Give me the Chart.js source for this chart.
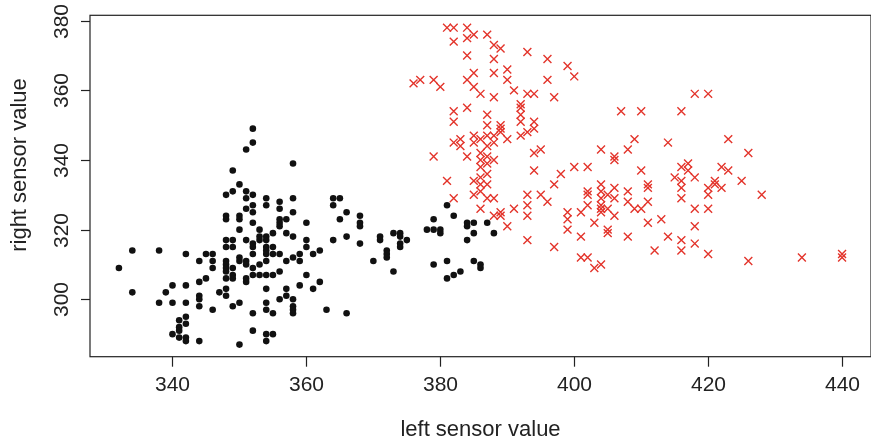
<!DOCTYPE html>
<html>
<head>
<meta charset="utf-8">
<script src="https://cdn.jsdelivr.net/npm/chart.js@4.4.0/dist/chart.umd.min.js"></script>
<style>
  html, body { margin: 0; padding: 0; background: #fff; }
  canvas { display: block; }
</style>
</head>
<body>
<canvas id="myChart" width="871" height="441"></canvas>
<script>
// group 1 (black dots)
const blackX = [334,338,342,345,346,332,344,346,346,345,344,334,339,340,342,344,344,338,340,342,344,346,342,341,342,341,341,340,341,342,342,344,
  347,348,348,349,350,351,352,354,354,354,355,356,352,354,355,354,350,
  352,352,351,358,349,350,349,348,351,352,351,354,352,351,352,354,356,356,358,358,357,356,356,356,360,348,348,350,350,352,350,353,354,354,353,353,355,357,358,351,348,348,349,349,352,352,354,354,355,360,360,
  348,348,348,348,350,350,351,351,352,352,353,354,354,355,357,356,358,359,359,361,362,349,349,349,348,351,352,353,354,355,356,360,357,357,359,361,362,358,358,358,358,
  364,365,364,366,365,368,368,368,364,366,368,363,366,370,371,371,372,372,372,373,373,374,374,374,374,375,378,379,379,380,380,381,382,379,381,381,382,383,384,384,384,385,385,387,388,385,386,386];
const blackY = [314,314,313,313,313,309,311,311,309,306,305,302,302,304,304,301,300,299,299,299,298,297,295,294,293,292,291,290,289,289,288,288,
  302,303,301,298,299,305,296,303,299,297,296,300,291,290,290,288,287,
  349,345,343,339,337,333,331,330,331,330,329,329,327,326,325,327,328,326,329,325,323,323,322,321,322,324,323,324,323,322,320,320,318,317,318,317,319,319,318,317,317,315,317,315,316,315,315,314,315,317,315,
  311,310,309,308,312,311,311,310,313,309,310,313,311,313,311,313,312,313,311,313,314,309,307,306,306,306,307,307,307,307,308,307,303,301,304,303,305,300,298,297,296,
  329,329,327,325,323,324,322,321,317,318,316,297,296,311,318,317,314,313,312,319,308,319,318,316,315,317,320,320,323,320,319,327,324,310,311,306,307,308,322,321,317,322,319,322,319,311,310,309];

// group 2 (red crosses)
const redX = [381,382,384,385,384,382,387,384,385,384,385,386,376,377,379,380,382,382,384,387,387,
  388,389,393,396,399,400,388,388,390,390,396,391,393,394,397,388,392,392,392,392,389,389,394,394,
  382,383,383,385,385,386,387,384,379,386,386,387,386,381,385,386,386,387,385,386,387,382,386,
  389,393,392,390,388,388,387,394,395,394,387,388,387,388,398,397,400,402,393,393,393,395,396,391,389,389,388,390,393,397,399,399,399,401,402,402,402,403,401,401,402,404,
  418,420,407,410,416,409,414,408,406,406,410,416,417,417,415,416,416,416,418,411,411,404,404,404,404,404,404,405,406,405,406,408,408,409,410,411,406,405,405,408,411,413,414,416,416,418,420,418,418,420,412,403,404,
  423,426,422,423,425,428,421,421,420,422,420,426,434,440,440];
const redY = [378,378,378,376,375,374,376,370,365,363,361,359,362,363,363,361,354,351,355,353,350,
  373,372,371,369,367,364,369,365,366,363,363,360,359,359,358,358,356,355,353,351,350,349,351,349,
  345,346,344,347,345,346,347,341,341,342,340,339,338,334,334,335,333,336,330,331,329,329,326,
  348,348,347,346,347,345,344,342,343,337,341,340,333,329,336,333,338,338,330,327,324,330,328,326,325,324,324,321,317,315,325,323,320,325,331,330,327,322,318,312,312,343,
  359,359,354,354,354,346,345,343,341,340,337,338,339,337,335,334,332,329,335,333,332,333,331,329,327,326,325,326,332,330,329,331,328,326,326,328,324,320,319,318,322,323,318,317,314,326,326,321,316,313,314,309,310,
  346,342,338,337,334,330,334,333,332,332,330,311,312,313,312];

const xTicks = [340, 360, 380, 400, 420, 440];
const yTicks = [300, 320, 340, 360, 380];
const xTitle = 'left sensor value';
const yTitle = 'right sensor value';

const toPoints = (xs, ys) => xs.map((x, i) => ({ x: x, y: ys[i] }));

// R style box, ticks and labels, placed with the chart's own scales
const rAxes = {
  id: 'rAxes',
  afterDraw(chart) {
    const ctx = chart.ctx;
    const a = chart.chartArea;
    const sx = chart.scales.x;
    const sy = chart.scales.y;
    ctx.save();
    ctx.strokeStyle = '#222';
    ctx.lineWidth = 1.2;
    ctx.strokeRect(a.left, a.top, a.right - a.left, a.bottom - a.top);

    ctx.fillStyle = '#222';
    ctx.font = '21px "Liberation Sans", Arial, sans-serif';
    ctx.textAlign = 'center';
    ctx.textBaseline = 'alphabetic';
    xTicks.forEach(v => {
      const px = Math.round(sx.getPixelForValue(v)) + 0.5;
      ctx.beginPath();
      ctx.moveTo(px, a.bottom);
      ctx.lineTo(px, a.bottom + 10);
      ctx.stroke();
      ctx.fillText(String(v), px, 391);
    });
    yTicks.forEach(v => {
      const py = Math.round(sy.getPixelForValue(v)) + 0.5;
      ctx.beginPath();
      ctx.moveTo(a.left - 9, py);
      ctx.lineTo(a.left, py);
      ctx.stroke();
      ctx.save();
      ctx.translate(68, py);
      ctx.rotate(-Math.PI / 2);
      ctx.fillText(String(v), 0, 0);
      ctx.restore();
    });

    ctx.font = '22px "Liberation Sans", Arial, sans-serif';
    ctx.fillText(xTitle, (a.left + a.right) / 2, 436);
    ctx.save();
    ctx.translate(26, 165);
    ctx.rotate(-Math.PI / 2);
    ctx.fillText(yTitle, 0, 0);
    ctx.restore();
    ctx.restore();
  }
};

const context = document.getElementById('myChart').getContext('2d');
const myChart = new Chart(context, {
  type: 'scatter',
  data: {
    datasets: [
      {
        label: 'group 1',
        data: toPoints(blackX, blackY),
        pointStyle: 'circle',
        pointRadius: 3.3,
        backgroundColor: '#111',
        borderWidth: 0,
      },
      {
        label: 'group 2',
        data: toPoints(redX, redY),
        pointStyle: 'crossRot',
        pointRadius: 5.6,
        borderColor: '#e3342b',
        backgroundColor: '#e3342b',
        borderWidth: 1.4,
      },
    ],
  },
  options: {
    responsive: false,
    maintainAspectRatio: false,
    animation: false,
    devicePixelRatio: 1,
    layout: { autoPadding: false, padding: { left: 90, right: 0, top: 15.3, bottom: 84.3 } },
    scales: {
      x: { type: 'linear', min: 327.68, max: 444.32, display: false },
      y: { type: 'linear', min: 283.52, max: 381.55, display: false },
    },
    plugins: {
      legend: { display: false },
      tooltip: { enabled: false },
    },
  },
  plugins: [rAxes],
});
</script>
</body>
</html>
